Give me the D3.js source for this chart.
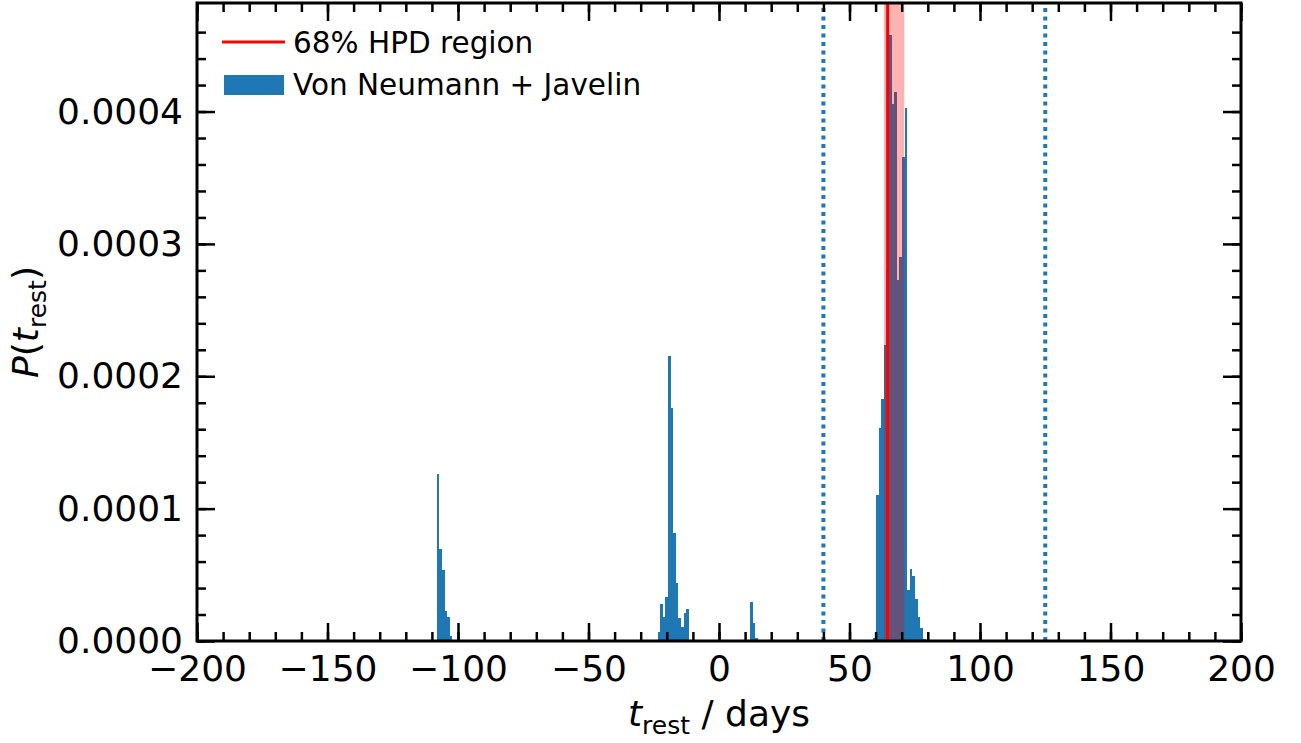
<!DOCTYPE html>
<html>
<head>
<meta charset="utf-8">
<script src="https://cdn.jsdelivr.net/npm/d3@7"></script>
<style>
  body { margin: 0; background: #fff; }
  text { font-family: "DejaVu Sans", sans-serif; fill: #000; }
</style>
</head>
<body>
<div id="canvas"></div>
<script>
// histogram bins: left edge (days) and height, bin width 1 day
var binWidth = 1.0;
var binStarts = [
  -108.16, -107.16, -106.16, -105.16, -104.16, -103.16,
  -23.55, -22.55, -21.55, -20.55, -19.55, -18.55, -17.55, -16.55, -15.55, -14.55, -13.55, -12.55,
  11.9, 12.9, 13.9,
  59.13, 60.13, 61.13, 62.13, 63.13, 64.13, 65.13, 66.13, 67.13, 68.13,
  69.13, 70.13, 71.13, 72.13, 73.13, 74.13, 75.13, 76.13, 77.13, 78.13
];
var binHeights = [
  0.000126, 0.0000696, 0.0000537, 0.0000227, 0.0000184, 0.0000038,
  0.000007, 0.000028, 0.0000184, 0.0000335, 0.000215, 0.000176, 0.0000819, 0.0000436, 0.0000176, 0.0000104, 0.0000214, 0.0000244,
  0.0000297, 0.0000134, 0.0000025,
  0.000002, 0.000110, 0.000161, 0.000183, 0.000224, 0.00028, 0.000458, 0.000406, 0.000415, 0.000273,
  0.000290, 0.000366, 0.000403, 0.0000386, 0.0000544, 0.0000488, 0.0000318, 0.0000181, 0.0000095, 0.0000016
];

var hpdLow = 63.2, hpdHigh = 71.0, hpdPeak = 64.6;
var dottedLines = [40, 125];

var xTicks = [-200, -150, -100, -50, 0, 50, 100, 150, 200];
var yTicks = [0, 0.0001, 0.0002, 0.0003, 0.0004];
var legendLabels = ["68% HPD region", "Von Neumann + Javelin"];

var width = 1301,
    height = 743,
    margin = {left: 197, right: 60, top: 3, bottom: 102};

var blue = "#1f77b4";

var x = d3.scaleLinear().domain([-200, 200]).range([margin.left, width - margin.right]);
var y = d3.scaleLinear().domain([0, 0.000482]).range([height - margin.bottom, margin.top]);

var svg = d3.select("#canvas").append("svg")
    .attr("width", width)
    .attr("height", height);

var bins = binStarts.map(function(s, i) { return {x0: s, h: binHeights[i]}; });

var plot = svg.append("g");

plot.selectAll("rect.bar")
  .data(bins).enter()
  .append("rect")
  .attr("class", "bar")
  .attr("x", function(d) { return x(d.x0); })
  .attr("width", function(d) { return x(d.x0 + binWidth) - x(d.x0); })
  .attr("y", function(d) { return y(d.h); })
  .attr("height", function(d) { return y(0) - y(d.h); })
  .attr("fill", blue)
  .attr("shape-rendering", "crispEdges");

// HPD span
plot.append("rect")
  .attr("x", x(hpdLow))
  .attr("width", x(hpdHigh) - x(hpdLow))
  .attr("y", y.range()[1])
  .attr("height", y.range()[0] - y.range()[1])
  .attr("fill", "red")
  .attr("fill-opacity", 0.3);

plot.append("line")
  .attr("x1", x(hpdPeak)).attr("x2", x(hpdPeak))
  .attr("y1", y.range()[0]).attr("y2", y.range()[1])
  .attr("stroke", "red")
  .attr("stroke-width", 3);

plot.selectAll("line.dotted")
  .data(dottedLines).enter()
  .append("line")
  .attr("class", "dotted")
  .attr("x1", function(d) { return x(d); })
  .attr("x2", function(d) { return x(d); })
  .attr("y1", y.range()[0]).attr("y2", y.range()[1])
  .attr("stroke", blue)
  .attr("stroke-width", 4)
  .attr("stroke-dasharray", "4,4.5");

// axes, ticks inward on all sides
var x0 = margin.left, x1 = width - margin.right, y0 = height - margin.bottom, y1 = margin.top;
var xMinor = d3.range(-200, 201, 10);
var yMinor = d3.range(0, 0.00048, 0.00002);

function tickAxis(axis, pos, vals, size, fmt) {
  var g = svg.append("g")
    .attr("transform", pos)
    .call(axis.tickValues(vals).tickSize(-size).tickFormat(fmt || function() { return ""; }));
  g.select(".domain").remove();
  g.selectAll(".tick line").attr("stroke", "#000").attr("stroke-width", 2.5);
  g.selectAll("text").attr("font-size", 36).attr("font-family", "DejaVu Sans").attr("fill", "#000");
  return g;
}

tickAxis(d3.axisBottom(x).tickPadding(14), "translate(0," + y0 + ")", xTicks, 18, d3.format("d"));
tickAxis(d3.axisBottom(x), "translate(0," + y0 + ")", xMinor, 9);
tickAxis(d3.axisTop(x), "translate(0," + y1 + ")", xTicks, 18);
tickAxis(d3.axisTop(x), "translate(0," + y1 + ")", xMinor, 9);

tickAxis(d3.axisLeft(y).tickPadding(14), "translate(" + x0 + ",0)", yTicks, 18, d3.format(".4f"));
tickAxis(d3.axisLeft(y), "translate(" + x0 + ",0)", yMinor, 9);
tickAxis(d3.axisRight(y), "translate(" + x1 + ",0)", yTicks, 18);
tickAxis(d3.axisRight(y), "translate(" + x1 + ",0)", yMinor, 9);

svg.append("rect")
  .attr("x", x0).attr("y", y1)
  .attr("width", x1 - x0).attr("height", y0 - y1)
  .attr("fill", "none")
  .attr("stroke", "#000")
  .attr("stroke-width", 3);

// axis labels
var xl = svg.append("text")
  .attr("x", (x0 + x1) / 2)
  .attr("y", 726)
  .attr("text-anchor", "middle")
  .attr("font-size", 36);
xl.append("tspan").attr("font-style", "italic").text("t");
xl.append("tspan").attr("font-size", 25).attr("dy", 8).text("rest");
xl.append("tspan").attr("dy", -8).text(" / days");

var yl = svg.append("text")
  .attr("transform", "translate(38," + ((y0 + y1) / 2) + ") rotate(-90)")
  .attr("text-anchor", "middle")
  .attr("font-size", 36);
yl.append("tspan").attr("font-style", "italic").text("P");
yl.append("tspan").text("(");
yl.append("tspan").attr("font-style", "italic").text("t");
yl.append("tspan").attr("font-size", 25).attr("dy", 8).text("rest");
yl.append("tspan").attr("dy", -8).text(")");

// legend
var legend = svg.append("g");
legend.append("line")
  .attr("x1", 222).attr("x2", 285)
  .attr("y1", 42).attr("y2", 42)
  .attr("stroke", "red").attr("stroke-width", 3);
legend.append("rect")
  .attr("x", 224).attr("y", 75)
  .attr("width", 60).attr("height", 20)
  .attr("fill", blue);
legend.selectAll("text.leg")
  .data(legendLabels).enter()
  .append("text")
  .attr("class", "leg")
  .attr("x", 293)
  .attr("y", function(d, i) { return 53 + i * 42; })
  .attr("font-size", 29.5)
  .text(function(d) { return d; });
</script>
</body>
</html>
